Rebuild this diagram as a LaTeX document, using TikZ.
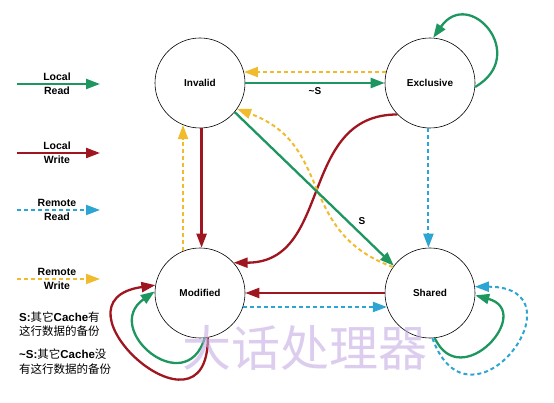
\documentclass[tikz,border=0pt]{standalone}
\usepackage{fontspec}
\setmainfont{Liberation Sans}
\newfontfamily\cjk{Noto Sans CJK SC}
\usetikzlibrary{arrows.meta}
\definecolor{lrgreen}{RGB}{30,150,95}
\definecolor{lwred}{RGB}{160,22,32}
\definecolor{rrblue}{RGB}{45,165,210}
\definecolor{rwyellow}{RGB}{240,188,45}
\definecolor{wmark}{RGB}{196,172,228}
\newcommand\zh[1]{{\cjk #1}}
\newcommand\keyline[4]{%
  \coordinate (#1a) at (17, #3);
  \coordinate (#1b) at (100, #3);
  \draw [#2] (#1a) -- (#1b);
  \node [keytext] (#1t) at (57, #3) {#4};}
\tikzset{
  tip/.style={-{Triangle[length=14pt, width=10pt]}},
  state/.style={circle, draw, line width=0.6pt, fill=white, minimum size=90pt,
    inner sep=0pt, font=\bfseries\fontsize{10}{12}\selectfont},
  lread/.style={draw=lrgreen, line width=2.3pt, tip},
  lwrite/.style={draw=lwred, line width=2.3pt, tip},
  rread/.style={draw=rrblue, line width=2pt, dash pattern=on 4pt off 3pt, tip},
  rwrite/.style={draw=rwyellow, line width=2pt, dash pattern=on 4pt off 3pt, tip},
  keytext/.style={align=center, font=\bfseries\fontsize{10.5}{14}\selectfont},
  edgelabel/.style={font=\bfseries\fontsize{10}{12}\selectfont},
  note/.style={align=left, anchor=west, inner sep=0pt, font=\fontsize{11.5}{14.5}\selectfont}
}

\begin{document}
\begin{tikzpicture}[x=1pt, y=1pt]
  \useasboundingbox (0, 0) rectangle (554, 402);

  \node [state] (inv) at (200, 319) {Invalid};
  \node [state] (exc) at (430, 319) {Exclusive};
  \node [state] (mod) at (200, 109) {Modified};
  \node [state] (sha) at (430, 109) {Shared};

  \keyline{lr}{lread}{318}{Local\\Read}
  \keyline{lw}{lwrite}{249}{Local\\Write}
  \keyline{rr}{rread}{192}{Remote\\Read}
  \keyline{rw}{rwrite}{123}{Remote\\Write}

  \node [note] (snote) at (19, 78) {\textbf{S:}\zh{其它}\textbf{Cache}\zh{有}\\\zh{这行数据的备份}};
  \node [note] (nsnote) at (19, 40.5) {\textbf{\textasciitilde S:}\zh{其它}\textbf{Cache}\zh{没}\\\zh{有这行数据的备份}};

  \draw [lread] (inv) -- (exc) node [midway, below, edgelabel] {\textasciitilde S};
  \draw [rwrite] (exc.166) -- (inv.14);
  \draw [lread] (exc.-5) to [out=30, in=55, looseness=2.5] (exc.86);

  \draw [lwrite] (inv.-88) -- (mod.88);
  \draw [rwrite] (mod.112) -- (inv.-112);
  \draw [lwrite] (exc.224) to [out=180, in=0, looseness=1.15] (mod.42);
  \draw [rwrite] (sha.145) to [out=160, in=-20, looseness=1.2] (inv.-35);
  \draw [lread] (inv.-40) -- (sha.143) node [pos=0.8, above=6pt, edgelabel] {S};
  \draw [rread] (exc.-92) -- (sha.92);

  \draw [lwrite] (sha) -- (mod);
  \draw [rread] (mod.-18) -- (sha.198);

  \draw [rread] (sha.-87) to [out=-70, in=0, looseness=4.3] (sha.8);
  \draw [lread] (sha.-84) to [out=-65, in=-15, looseness=2.7] (sha.-3);
  \draw [lwrite] (mod.-80) to [out=-90, in=-172, looseness=3.9] (mod.170);
  \draw [lread] (mod.-84) to [out=-107, in=-145, looseness=2.45] (mod.178);

  \node [text=wmark, opacity=0.6, font=\cjk\fontsize{49}{49}\selectfont] (brand) at (305, 54) {大话处理器};
\end{tikzpicture}
\end{document}
